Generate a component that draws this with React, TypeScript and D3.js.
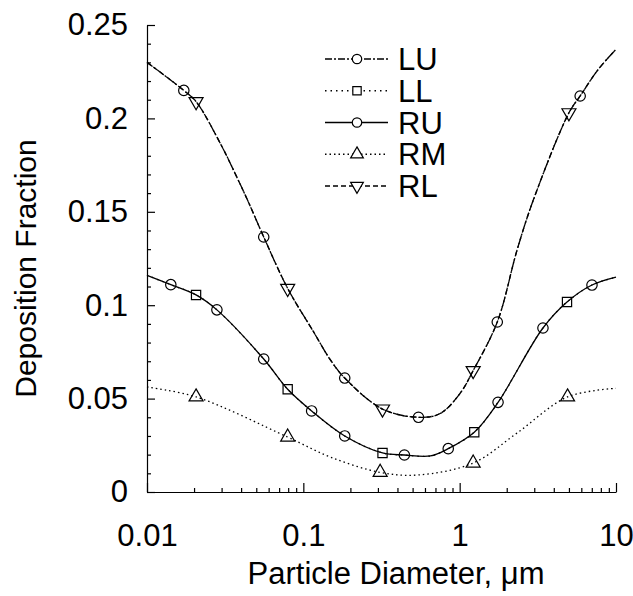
import React, { useRef, useEffect } from 'react';
import * as d3 from 'd3';

// curves (particle diameter in um, deposition fraction)
const upperX = [0.01, 0.0172, 0.0206, 0.0297, 0.0359, 0.0441, 0.0558, 0.0794, 0.1163, 0.149, 0.184, 0.321, 0.545, 0.75, 1.01, 1.22, 1.74, 2.33, 2.95, 5.0, 5.9, 7.66, 10];
const upperY = [0.23, 0.215, 0.209, 0.186, 0.172, 0.156, 0.1365, 0.109, 0.0857, 0.0707, 0.061, 0.0444, 0.04, 0.042, 0.053, 0.065, 0.091, 0.1296, 0.156, 0.203, 0.212, 0.226, 0.237];

const middleX = [0.01, 0.0142, 0.0206, 0.028, 0.0558, 0.0794, 0.113, 0.184, 0.321, 0.443, 0.65, 0.845, 1.24, 1.76, 3.41, 4.86, 7.02, 10];
const middleY = [0.116, 0.111, 0.1055, 0.0975, 0.0712, 0.055, 0.0434, 0.03, 0.0209, 0.0198, 0.0193, 0.0232, 0.032, 0.048, 0.0878, 0.1017, 0.1108, 0.115];

const lowerX = [0.01, 0.0206, 0.0794, 0.149, 0.31, 0.54, 1.22, 2.33, 4.9, 10];
const lowerY = [0.0562, 0.0509, 0.0294, 0.0187, 0.0105, 0.0091, 0.0155, 0.0316, 0.0509, 0.0555];

// symbol positions
const luMarkX = [0.0172, 0.0558, 0.184, 0.545, 1.74, 5.9];
const luMarkY = [0.215, 0.1365, 0.061, 0.04, 0.091, 0.212];
const llMarkX = [0.0206, 0.0794, 0.321, 1.24, 4.86];
const llMarkY = [0.1055, 0.055, 0.0209, 0.032, 0.1017];
const ruMarkX = [0.0142, 0.028, 0.0558, 0.113, 0.184, 0.443, 0.845, 1.76, 3.41, 7.02];
const ruMarkY = [0.111, 0.0975, 0.0712, 0.0434, 0.03, 0.0198, 0.0232, 0.048, 0.0878, 0.1108];
const rmMarkX = [0.0206, 0.0794, 0.31, 1.22, 4.9];
const rmMarkY = [0.0509, 0.0294, 0.0105, 0.0155, 0.0509];
const rlMarkX = [0.0206, 0.0794, 0.321, 1.22, 5.0];
const rlMarkY = [0.209, 0.109, 0.0444, 0.065, 0.203];

const seriesNames = ['LU', 'LL', 'RU', 'RM', 'RL'];
const xTickValues = [0.01, 0.1, 1, 10];
const xTickLabels = ['0.01', '0.1', '1', '10'];
const yTickValues = [0, 0.05, 0.1, 0.15, 0.2, 0.25];
const yTickLabels = ['0', '0.05', '0.1', '0.15', '0.2', '0.25'];

const FONT = '"Liberation Sans", Arial, Helvetica, sans-serif';

const App = () => {
  const ref = useRef<SVGSVGElement>(null);

  useEffect(() => {
    const root = d3.select(ref.current);
    root.selectAll('*').remove();

    const left = 147;
    const right = 616;
    const top = 25;
    const bottom = 492;

    const x = d3.scaleLog().domain([0.01, 10]).range([left, right]);
    const y = d3.scaleLinear().domain([0, 0.25]).range([bottom, top]);

    const svg = root.append('g');

    const zip = (xs: number[], ys: number[]) => xs.map((v, i) => [v, ys[i]] as [number, number]);

    const series = [
      { name: 'LU', curve: zip(upperX, upperY), marks: zip(luMarkX, luMarkY), dash: '7,2,2,2', symbol: d3.symbolCircle },
      { name: 'LL', curve: zip(middleX, middleY), marks: zip(llMarkX, llMarkY), dash: '1.5,4', symbol: d3.symbolSquare },
      { name: 'RU', curve: zip(middleX, middleY), marks: zip(ruMarkX, ruMarkY), dash: null, symbol: d3.symbolCircle },
      { name: 'RM', curve: zip(lowerX, lowerY), marks: zip(rmMarkX, rmMarkY), dash: '1.5,3', symbol: d3.symbolTriangle },
      { name: 'RL', curve: zip(upperX, upperY), marks: zip(rlMarkX, rlMarkY), dash: '5,3', symbol: d3.symbolTriangle },
    ];

    const line = d3
      .line<[number, number]>()
      .x((d) => x(d[0]))
      .y((d) => y(d[1]))
      .curve(d3.curveCatmullRom.alpha(0.5));

    // axes
    const yAxis = svg.append('g').attr('transform', `translate(${left},0)`);
    yAxis.call(
      d3
        .axisLeft(y)
        .tickValues(yTickValues)
        .tickFormat((d, i) => yTickLabels[i])
        .tickSizeInner(-8)
        .tickSizeOuter(0)
        .tickPadding(19)
    );
    yAxis
      .append('g')
      .call(
        d3
          .axisLeft(y)
          .tickValues(d3.range(0, 26).map((i) => i / 100).filter((v, i) => i % 5 !== 0))
          .tickFormat(() => '')
          .tickSizeInner(-4)
          .tickSizeOuter(0)
      )
      .select('.domain')
      .remove();

    const xAxis = svg.append('g').attr('transform', `translate(0,${bottom})`);
    xAxis.call(
      d3
        .axisBottom(x)
        .tickValues(xTickValues)
        .tickFormat((d, i) => xTickLabels[i])
        .tickSizeInner(-9)
        .tickSizeOuter(0)
        .tickPadding(32)
    );
    const minorX: number[] = [];
    [0.01, 0.1, 1].forEach((dec) => {
      for (let k = 2; k <= 9; k++) minorX.push(dec * k);
    });
    xAxis
      .append('g')
      .call(d3.axisBottom(x).tickValues(minorX).tickFormat(() => '').tickSizeInner(-4).tickSizeOuter(0))
      .select('.domain')
      .remove();

    svg.selectAll('.domain, .tick line').attr('stroke', '#000').attr('stroke-width', 1.2);
    svg
      .selectAll('.tick text')
      .attr('font-family', FONT)
      .attr('font-size', 31)
      .attr('fill', '#000');

    // curves and symbols
    series.forEach((s) => {
      svg
        .append('path')
        .datum(s.curve)
        .attr('d', line)
        .attr('fill', 'none')
        .attr('stroke', '#000')
        .attr('stroke-width', 1.3)
        .attr('stroke-dasharray', s.dash);

      const sym = d3.symbol().type(s.symbol).size(85);
      svg
        .append('g')
        .selectAll('path')
        .data(s.marks)
        .enter()
        .append('path')
        .attr('d', sym)
        .attr('transform', (d) => `translate(${x(d[0])},${y(d[1])})${s.name === 'RL' ? ' rotate(180)' : ''}`)
        .attr('fill', 'none')
        .attr('stroke', '#000')
        .attr('stroke-width', 1.2);
    });

    // legend
    const legendY = d3.scalePoint().domain(seriesNames).range([59, 186]);
    series.forEach((s) => {
      const ly = legendY(s.name) as number;
      svg
        .append('line')
        .attr('x1', 325)
        .attr('x2', 388)
        .attr('y1', ly)
        .attr('y2', ly)
        .attr('stroke', '#000')
        .attr('stroke-width', 1.3)
        .attr('stroke-dasharray', s.dash);
      svg
        .append('path')
        .attr('d', d3.symbol().type(s.symbol).size(70)())
        .attr('transform', `translate(357,${ly})${s.name === 'RL' ? ' rotate(180)' : ''}`)
        .attr('fill', '#fff')
        .attr('stroke', '#000')
        .attr('stroke-width', 1.2);
      svg
        .append('text')
        .attr('x', 398)
        .attr('y', ly)
        .attr('dy', '0.36em')
        .attr('font-family', FONT)
        .attr('font-size', 31)
        .text(s.name);
    });

    // axis titles
    svg
      .append('text')
      .attr('transform', `translate(36,${(top + bottom) / 2 + 10}) rotate(-90)`)
      .attr('text-anchor', 'middle')
      .attr('font-family', FONT)
      .attr('font-size', 30)
      .text('Deposition Fraction');

    svg
      .append('text')
      .attr('x', 396)
      .attr('y', 584)
      .attr('text-anchor', 'middle')
      .attr('font-family', FONT)
      .attr('font-size', 31)
      .text('Particle Diameter, \u03bcm');
  }, []);

  return (
    <svg
      ref={ref}
      width={633}
      height={596}
      style={{ position: 'absolute', left: 0, top: 0, background: '#fff' }}
    ></svg>
  );
};

export default App;
